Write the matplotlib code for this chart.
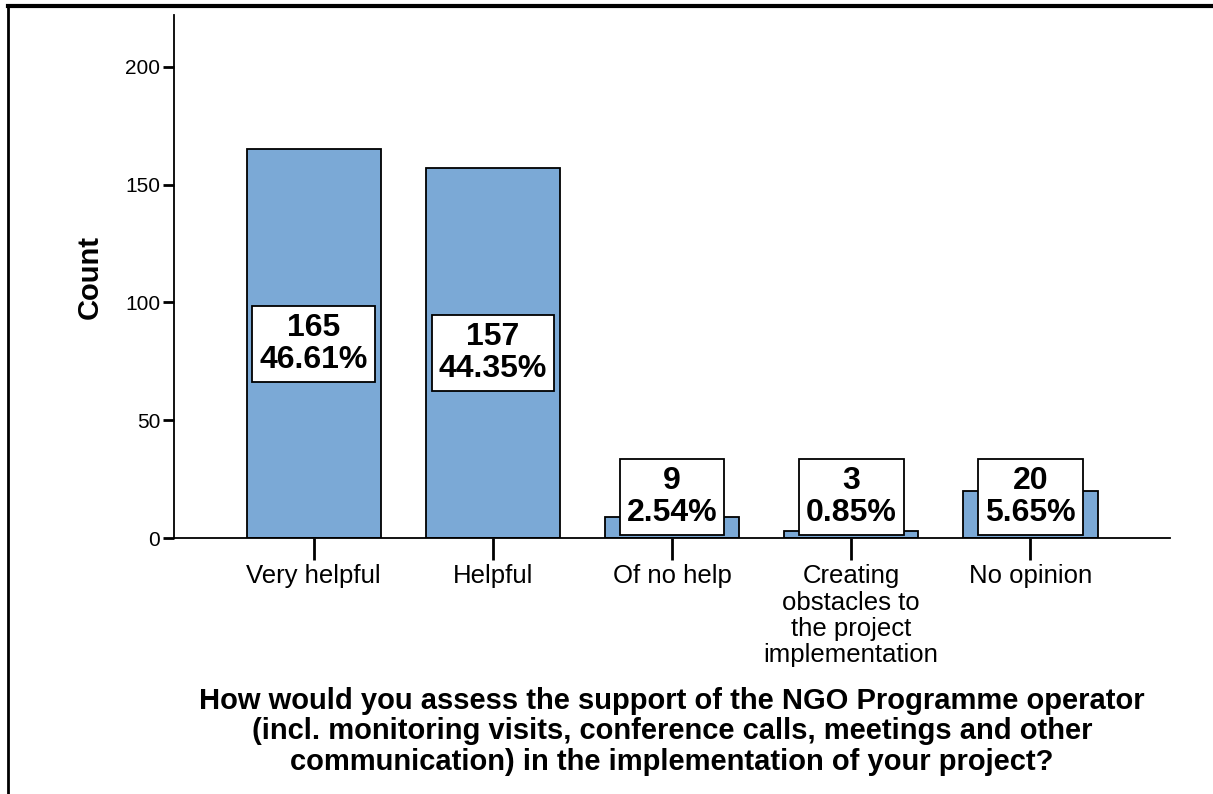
import matplotlib
matplotlib.use('Agg')
import matplotlib.pyplot as plt
from matplotlib.lines import Line2D

plt.rcParams['font.family'] = ['Liberation Sans', 'DejaVu Sans']

categories = ['Very helpful', 'Helpful', 'Of no help',
              'Creating\nobstacles to\nthe project\nimplementation', 'No opinion']
counts = [165, 157, 9, 3, 20]
percents = ['46.61%', '44.35%', '2.54%', '0.85%', '5.65%']
yticks = [0, 50, 100, 150, 200]

BAR_COLOR = '#7BA9D6'

fig = plt.figure(figsize=(12.13, 7.94), dpi=100)
ax = fig.add_axes([0.1434, 0.3224, 0.8212, 0.6586])

x = range(len(categories))
ax.bar(x, counts, width=0.75, color=BAR_COLOR, edgecolor='black', linewidth=1.3, zorder=2)

# count / percent boxes, kept above the baseline for the short bars
for i, (c, p) in enumerate(zip(counts, percents)):
    ypos = max(c / 2, 17.3)
    ax.text(i, ypos, f'{c}\n{p}', ha='center', va='center', fontsize=23,
            fontweight='bold', linespacing=1.1, zorder=3,
            bbox=dict(boxstyle='square,pad=0.22', facecolor='white',
                      edgecolor='black', linewidth=1.3))

ax.set_xlim(-0.78, 4.78)
ax.set_ylim(0, 222)
ax.set_yticks(yticks)
ax.set_xticks(list(x))
ax.set_xticklabels(categories, fontsize=18.5, linespacing=1.12)
ax.tick_params(axis='y', labelsize=15, length=8, width=2, pad=2)
ax.tick_params(axis='x', length=16, width=2, pad=3)

for side in ['top', 'right']:
    ax.spines[side].set_visible(False)
ax.spines['left'].set_linewidth(1.3)
ax.spines['bottom'].set_linewidth(1.3)

ax.set_ylabel('Count', fontsize=21, fontweight='bold', labelpad=15)
ax.set_xlabel('How would you assess the support of the NGO Programme operator\n'
              '(incl. monitoring visits, conference calls, meetings and other\n'
              'communication) in the implementation of your project?',
              fontsize=21, fontweight='bold', linespacing=1.12, labelpad=14)

# outer frame edges
fig.add_artist(Line2D([0.0066, 0.998], [0.9925, 0.9925], color='black', linewidth=3,
                      transform=fig.transFigure))
fig.add_artist(Line2D([0.0066, 0.0066], [0.0, 0.9925], color='black', linewidth=2,
                      transform=fig.transFigure))

fig.savefig('out.png', dpi=100)
